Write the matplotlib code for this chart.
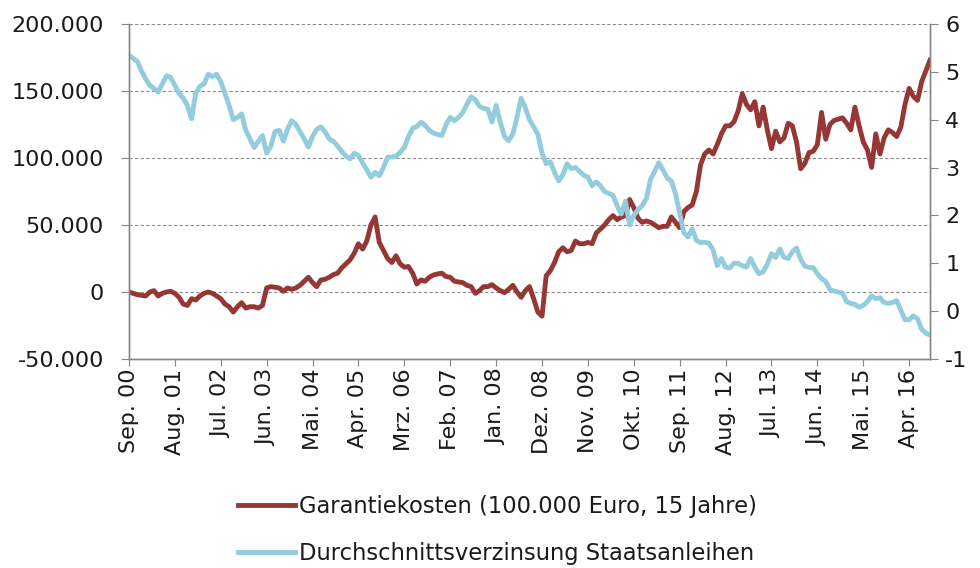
import matplotlib
matplotlib.use('Agg')
import matplotlib.pyplot as plt
from matplotlib.ticker import FuncFormatter

# Monatswerte Sep. 2000 bis Sep. 2016
tick_labels = ['Sep. 00', 'Aug. 01', 'Jul. 02', 'Jun. 03', 'Mai. 04', 'Apr. 05',
               'Mrz. 06', 'Feb. 07', 'Jan. 08', 'Dez. 08', 'Nov. 09', 'Okt. 10',
               'Sep. 11', 'Aug. 12', 'Jul. 13', 'Jun. 14', 'Mai. 15', 'Apr. 16']

# Garantiekosten in Tausend Euro
garantie = [
    0, -1, -2, -2.5, -3, 0, 1, -3, -1, 0,
    0.5, -1, -4, -9, -10, -5, -6, -3, -1, 0,
    -1, -3, -5, -9, -11, -15, -11, -8, -12, -11,
    -11, -12, -10, 3, 4, 3.5, 3, 0.5, 3, 2,
    3, 5, 8, 11, 7, 4, 9, 9.5, 11, 13,
    14, 18, 21, 24, 29, 36, 32, 38, 50, 56,
    37, 31, 25, 22, 27, 21, 18.5, 19, 14, 6,
    9, 8, 11, 12.7, 13.5, 14, 11.5, 11, 8, 7.5,
    7, 5, 4, -1, 1, 4, 4, 5.5, 3, 1,
    -0.5, 2, 5, 0, -4, 1, 4, -5, -15, -18,
    12, 16, 22, 30, 33, 30, 31, 38, 36, 36,
    37, 36, 44, 47, 50, 54, 57, 54, 56, 57,
    69, 63, 55, 52, 53, 52, 50, 48, 49, 49,
    56, 52, 48, 60, 63, 65, 75, 95, 103, 106,
    103, 110, 118, 124, 124, 127, 135, 148, 140, 136,
    142, 124, 138, 121, 107, 120, 112, 115, 126, 124,
    112, 92, 96, 104, 105, 110, 134, 114, 125, 128,
    129, 130, 126, 121, 138, 124, 112, 106, 93, 118,
    103, 115, 121, 119, 116, 123, 140, 152, 146, 143,
    157, 165, 173,
]

# Durchschnittsverzinsung Staatsanleihen in Prozent
rendite = [
    5.35, 5.28, 5.22, 5.02, 4.85, 4.72, 4.65, 4.58, 4.75, 4.92,
    4.88, 4.72, 4.55, 4.45, 4.3, 4.02, 4.55, 4.7, 4.75, 4.95,
    4.9, 4.95, 4.8, 4.55, 4.3, 4.0, 4.05, 4.12, 3.78, 3.6,
    3.42, 3.55, 3.67, 3.3, 3.45, 3.75, 3.78, 3.55, 3.8, 3.98,
    3.9, 3.75, 3.6, 3.43, 3.65, 3.8, 3.85, 3.75, 3.6, 3.55,
    3.45, 3.34, 3.24, 3.18, 3.3, 3.25, 3.1, 2.95, 2.8, 2.9,
    2.83, 3.0, 3.22, 3.22, 3.24, 3.32, 3.42, 3.65, 3.82, 3.86,
    3.95, 3.88, 3.78, 3.72, 3.69, 3.67, 3.9, 4.05, 3.98, 4.05,
    4.15, 4.32, 4.48, 4.42, 4.28, 4.24, 4.22, 3.95, 4.3, 3.95,
    3.65, 3.56, 3.7, 4.05, 4.45, 4.25, 4.0, 3.85, 3.7, 3.3,
    3.08, 3.12, 2.9, 2.72, 2.85, 3.08, 2.98, 3.0, 2.92, 2.84,
    2.8, 2.62, 2.7, 2.62, 2.5, 2.46, 2.42, 2.2, 2.03, 2.3,
    1.8, 2.0, 2.12, 2.2, 2.35, 2.75, 2.92, 3.1, 2.95, 2.78,
    2.72, 2.45, 2.05, 1.64, 1.55, 1.72, 1.48, 1.43, 1.44, 1.42,
    1.28, 0.95, 1.1, 0.92, 0.9, 1.0, 1.0, 0.95, 0.92, 1.1,
    0.92, 0.78, 0.82, 0.98, 1.2, 1.12, 1.3, 1.12, 1.1, 1.24,
    1.32, 1.08, 0.94, 0.91, 0.91, 0.78, 0.68, 0.62, 0.45, 0.42,
    0.4, 0.38, 0.2, 0.16, 0.14, 0.08, 0.12, 0.2, 0.32, 0.26,
    0.28, 0.18, 0.16, 0.18, 0.22, 0.02, -0.18, -0.18, -0.1, -0.16,
    -0.38, -0.46, -0.5,
]

x = list(range(len(garantie)))
txt = '#1a1a1a'
axcol = '#868686'

fig = plt.figure(figsize=(9.8, 5.68), dpi=100)
ax = fig.add_axes([0.1316, 0.368, 0.8174, 0.5897])
ax2 = ax.twinx()

l1, = ax.plot(x, [v * 1000 for v in garantie], color='#953735', lw=3.5, solid_joinstyle='round')
l2, = ax2.plot(x, rendite, color='#93CDDD', lw=3.5, solid_joinstyle='round')

ax.set_xlim(0, len(x) - 1)
ax.set_ylim(-50000, 200000)
ax2.set_ylim(-1, 6)

ax.set_yticks(range(-50000, 200001, 50000))
ax.yaxis.set_major_formatter(FuncFormatter(lambda v, p: f'{int(v):,}'.replace(',', '.')))
ax2.set_yticks(range(-1, 7))
ax2.yaxis.set_major_formatter(FuncFormatter(lambda v, p: str(int(v))))
ax.set_xticks(range(0, len(x), 11))
ax.set_xticklabels(tick_labels, rotation=90)

ax.yaxis.grid(True, ls=(0, (3, 2)), color='#8c8c8c', lw=0.8)
ax.set_axisbelow(True)

for a in (ax, ax2):
    a.spines['top'].set_visible(False)
    for s in ('left', 'right', 'bottom'):
        a.spines[s].set_color(axcol)
        a.spines[s].set_linewidth(1)

ax.tick_params(axis='y', length=6, pad=12, colors=axcol, labelcolor=txt, labelsize=16)
ax.tick_params(axis='x', length=5, pad=2, colors=axcol, labelcolor=txt, labelsize=16)
ax2.tick_params(axis='y', length=6, pad=5, colors=axcol, labelcolor=txt, labelsize=16)

fig.legend([l1, l2], ['Garantiekosten (100.000 Euro, 15 Jahre)',
                      'Durchschnittsverzinsung Staatsanleihen'],
           loc='center', bbox_to_anchor=(0.508, 0.067), frameon=False,
           handlelength=2.5, handletextpad=0.2, labelspacing=1.05,
           prop={'family': 'DejaVu Sans', 'size': 16.3}, labelcolor=txt)

fig.savefig('out.png', dpi=100)
